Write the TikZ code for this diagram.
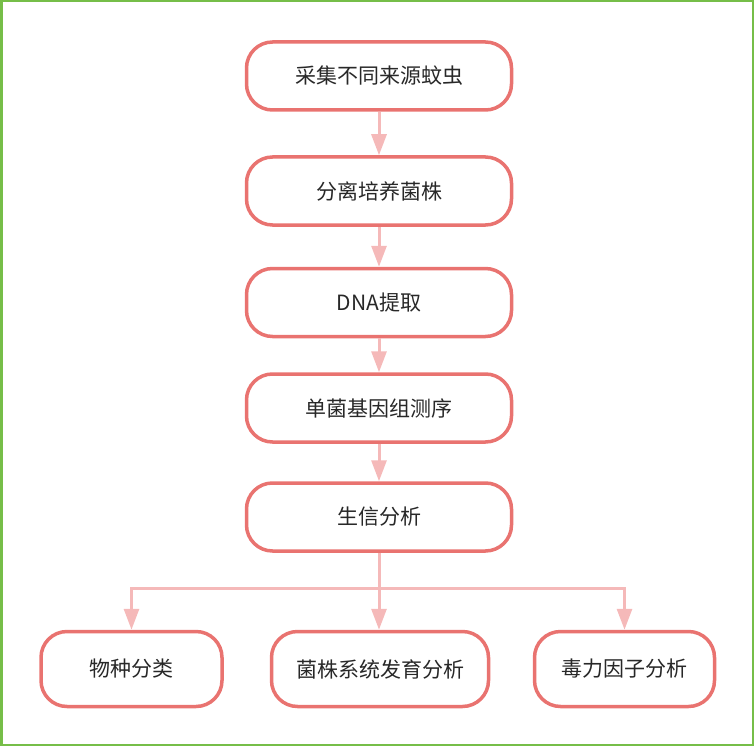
\documentclass[tikz,border=0pt]{standalone}
\usepackage{fontspec}
\setmainfont{Noto Sans CJK SC}
\usetikzlibrary{arrows.meta}
\definecolor{boxred}{RGB}{233,115,112}
\definecolor{arrpink}{RGB}{245,185,185}
\definecolor{framegreen}{RGB}{118,190,72}
\definecolor{txtgray}{RGB}{40,40,40}

\begin{document}
\begin{tikzpicture}[x=1pt, y=-1pt]
    \tikzset{
        stage/.style={
            draw=boxred, fill=white, line width=3.5pt,
            rounded corners=26pt, text=txtgray,
            minimum width=265pt, minimum height=68pt,
            font=\fontsize{21}{25}\selectfont
        },
        result/.style={
            stage, minimum height=75pt
        },
        flow/.style={
            draw=arrpink, line width=3pt,
            -{Triangle[length=21pt, width=15pt]}
        },
        plain/.style={
            draw=arrpink, line width=3pt
        },
    }
    \useasboundingbox (0,0) rectangle (754,746);
    \draw[framegreen, line width=2.5pt] (1.25,1.25) rectangle (752.75,744.75);

    % ==== main chain ====
    \node[stage] (collect) at (379,76) {采集不同来源蚊虫};
    \node[stage] (culture) at (379,191) {分离培养菌株};
    \node[stage] (dna) at (379,302.5) {DNA提取};
    \node[stage] (seq) at (379,408) {单菌基因组测序};
    \node[stage] (bioinfo) at (379,517) {生信分析};

    % ==== results ====
    \node[result, minimum width=181pt] (species) at (131.5,669) {物种分类};
    \node[result, minimum width=217pt] (phylo) at (380,669) {菌株系统发育分析};
    \node[result, minimum width=180pt] (virulence) at (624.5,669) {毒力因子分析};

    % ==== arrows ====
    \draw[flow] (collect) -- (culture);
    \draw[flow] (culture) -- (dna);
    \draw[flow] (dna) -- (seq);
    \draw[flow] (seq) -- (bioinfo);

    \coordinate (split) at (379,588);
    \draw[plain] (bioinfo) -- (split);
    \draw[flow] (split) -| (species);
    \draw[flow] (split) -- (split |- phylo.north);
    \draw[flow] (split) -| (virulence);

\end{tikzpicture}
\end{document}
